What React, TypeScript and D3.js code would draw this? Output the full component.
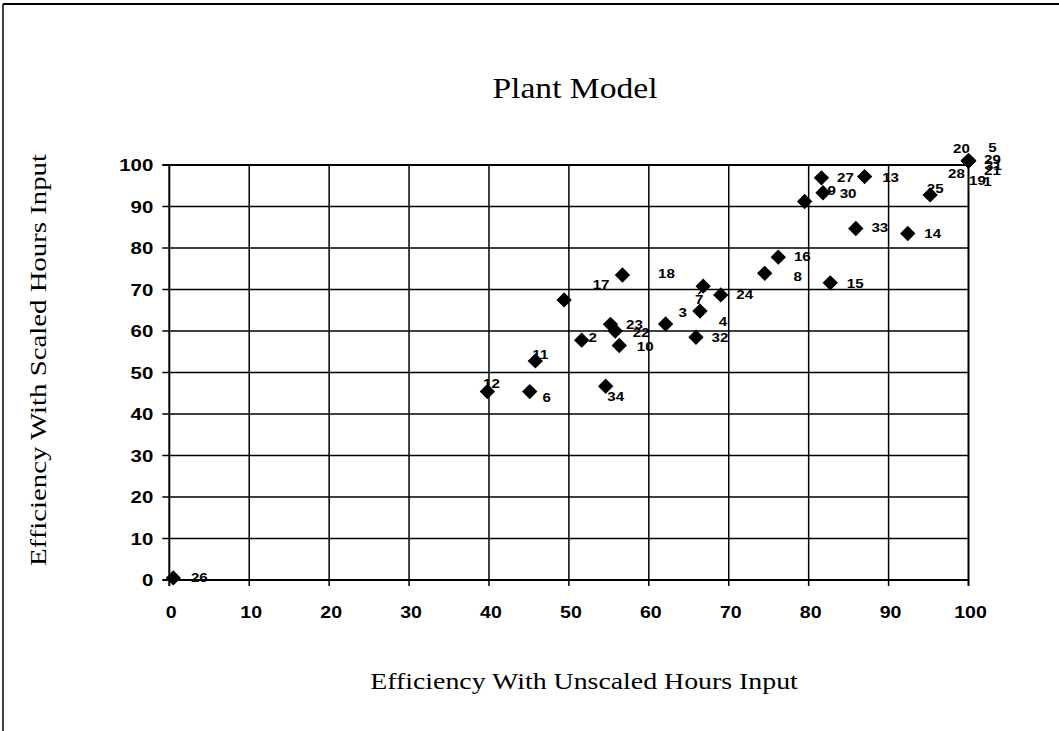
import React from "react";
import * as d3 from "d3";

const pointIds = [1, 2, 3, 4, 5, 6, 7, 8, 9, 10, 11, 12, 13, 14, 15, 16, 17, 18, 19, 20, 21, 22, 23, 24, 25, 26, 27, 28, 29, 30, 31, 32, 33, 34];
const unscaledEff = [100, 51.6, 62.1, 66.4, 100, 45.1, 66.8, 74.5, 79.5, 56.3, 45.8, 39.8, 87.0, 92.4, 82.7, 76.2, 49.4, 56.7, 100, 100, 100, 55.8, 55.2, 69.0, 95.2, 0.5, 81.6, 100, 100, 81.8, 100, 65.9, 85.9, 54.6];
const scaledEff = [101, 57.8, 61.7, 64.8, 101, 45.4, 70.8, 73.9, 91.2, 56.5, 52.8, 45.4, 97.2, 83.5, 71.6, 77.8, 67.5, 73.5, 101, 101, 101, 60.0, 61.6, 68.7, 92.8, 0.5, 96.9, 101, 101, 93.3, 101, 58.5, 84.7, 46.7];
// label offsets (px) from each marker, as placed in the source chart
const labelDx = [19, 11, 17, 23, 24, 17, -4, 33, 27, 26, 5, 4, 26, 25, 25, 24, 37, 44, 9, -7, 24, 26, 24, 24, 5, 26, 24, -12, 24, 25, 25, 24, 24, 10];
const labelDy = [20, -3, -12, 10, -14, 5, 13, 3, -12, 0, -7, -9, 0, 0, 0, -1, -16, -2, 19, -13, 9, 1, 0, -1, -7, -1, -1, 12, -2, 0, 4, 0, -1, 10];
const leaderIds = [7];

const xTicks = [0, 10, 20, 30, 40, 50, 60, 70, 80, 90, 100];
const yTicks = [0, 10, 20, 30, 40, 50, 60, 70, 80, 90, 100];

const title = "Plant Model";
const xTitle = "Efficiency With Unscaled Hours Input";
const yTitle = "Efficiency With Scaled Hours Input";

export default function App() {
  const W = 1059, H = 731;
  const x = d3.scaleLinear().domain([0, 100]).range([169.3, 968.5]);
  const y = d3.scaleLinear().domain([0, 100]).range([580, 165]);
  const diamond = d3.symbol().type(d3.symbolSquare).size(118)();
  const serif = "'Liberation Serif', 'Times New Roman', serif";
  const sans = "'Liberation Sans', Arial, sans-serif";

  return (
    <svg width={W} height={H} style={{ position: "absolute", left: 0, top: 0, background: "#fff" }}>
      <rect x={0} y={0} width={W} height={H} fill="#fff" />
      {/* outer frame */}
      <line x1={3} y1={4} x2={W} y2={4} stroke="#000" strokeWidth={2} />
      <line x1={3} y1={4} x2={3} y2={H} stroke="#000" strokeWidth={1.5} />

      {/* title */}
      <text transform={`translate(575,98) scale(1.12,1)`} textAnchor="middle" fontFamily={serif} fontSize={30} fill="#000">{title}</text>

      {/* gridlines */}
      {yTicks.map((t) => (
        <line key={"gy" + t} x1={x(0) - 7} x2={x(100)} y1={y(t)} y2={y(t)} stroke="#000" strokeWidth={t === 0 || t === 100 ? 2 : 1.5} />
      ))}
      {xTicks.map((t) => (
        <line key={"gx" + t} x1={x(t)} x2={x(t)} y1={y(100)} y2={y(0) + 6} stroke="#000" strokeWidth={t === 0 || t === 100 ? 2 : 1.5} />
      ))}

      {/* tick labels */}
      {yTicks.map((t) => (
        <text key={"ly" + t} transform={`translate(${x(0) - 16},${y(t) + 6}) scale(1.2,1)`} textAnchor="end" fontFamily={sans} fontWeight="bold" fontSize={17} fill="#000">{t}</text>
      ))}
      {xTicks.map((t) => (
        <text key={"lx" + t} transform={`translate(${x(t) + 2},${618}) scale(1.15,1)`} textAnchor="middle" fontFamily={sans} fontWeight="bold" fontSize={17} fill="#000">{t}</text>
      ))}

      {/* axis titles */}
      <text transform={`translate(584,689) scale(1.16,1)`} textAnchor="middle" fontFamily={serif} fontSize={24} fill="#000">{xTitle}</text>
      <text transform={`translate(46,360) rotate(-90) scale(1.2,1)`} textAnchor="middle" fontFamily={serif} fontSize={24} fill="#000">{yTitle}</text>

      {/* markers */}
      {pointIds.map((id, i) => (
        <path key={"m" + id} d={diamond} transform={`translate(${x(unscaledEff[i])},${y(scaledEff[i])}) rotate(45)`} fill="#000" />
      ))}

      {/* leader lines */}
      {pointIds.map((id, i) =>
        leaderIds.includes(id) ? (
          <line key={"ld" + id} x1={x(unscaledEff[i]) + labelDx[i] - 1} y1={y(scaledEff[i]) + labelDy[i] - 5} x2={x(unscaledEff[i])} y2={y(scaledEff[i]) + 3} stroke="#000" strokeWidth={1.5} />
        ) : null
      )}

      {/* data labels */}
      {pointIds.map((id, i) => (
        <text key={"t" + id} transform={`translate(${x(unscaledEff[i]) + labelDx[i]},${y(scaledEff[i]) + labelDy[i] + 5}) scale(1.12,1)`} textAnchor="middle" fontFamily={sans} fontWeight="bold" fontSize={13.5} fill="#000">{id}</text>
      ))}
    </svg>
  );
}
